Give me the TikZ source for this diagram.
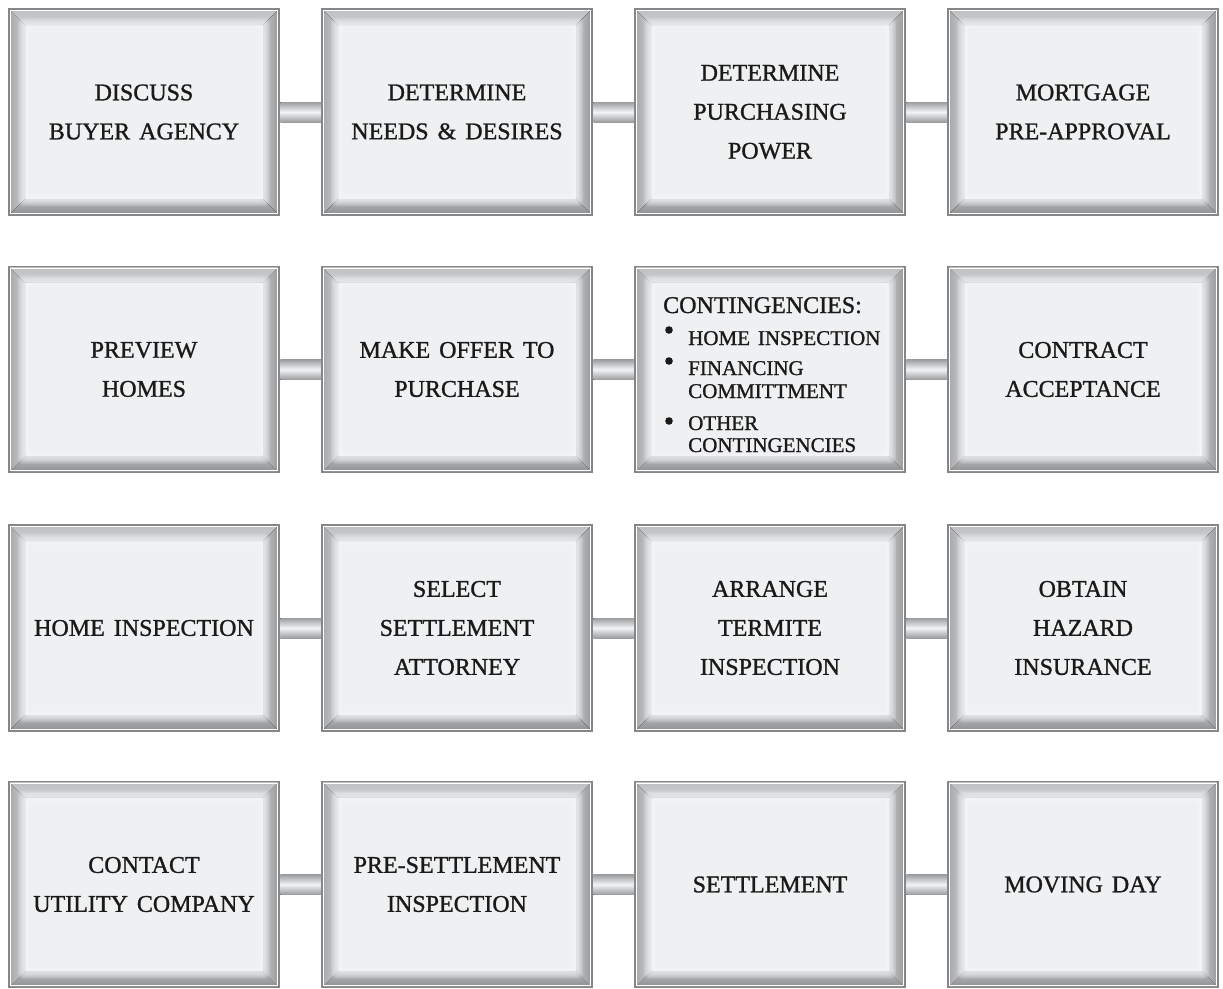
\documentclass[tikz,border=0pt]{standalone}
\usepackage{fontspec}
\setmainfont{Liberation Serif}
\newfontfamily\boxfont{Liberation Serif}[FakeBold=1.1, WordSpace=1.5]
\usetikzlibrary{calc}
\definecolor{lo}{HTML}{A6A7A9}
\definecolor{li}{HTML}{CCCDCF}
\definecolor{to}{HTML}{BDBEC0}
\definecolor{ti}{HTML}{CFD0D2}
\definecolor{ri}{HTML}{C3C4C6}
\definecolor{ro}{HTML}{97989A}
\definecolor{bi}{HTML}{B8B9BB}
\definecolor{bo}{HTML}{8C8D8F}
\definecolor{panel}{HTML}{EFF0F2}
\definecolor{frameline}{HTML}{858688}
\definecolor{txt}{HTML}{1A1A1A}
\definecolor{cdark}{HTML}{9C9D9F}
\definecolor{cmid}{HTML}{F2F3F4}
\def\bw{16pt}
\tikzset{
  bevelbox/.style={rectangle, minimum width=270pt, minimum height=206pt, inner sep=0pt,
    align=center, text=txt, font=\boxfont\fontsize{24}{39}\selectfont,
    draw=frameline, line width=1.3pt,
    path picture={
      \coordinate (SW) at (path picture bounding box.south west);
      \coordinate (NE) at (path picture bounding box.north east);
      \coordinate (NW) at (path picture bounding box.north west);
      \coordinate (SE) at (path picture bounding box.south east);
      \fill[left color=lo, right color=li] (SW) -- (NW) -- ($(NW)+(\bw,-\bw)$) -- ($(SW)+(\bw,\bw)$) -- cycle;
      \fill[top color=to, bottom color=ti] (NW) -- (NE) -- ($(NE)+(-\bw,-\bw)$) -- ($(NW)+(\bw,-\bw)$) -- cycle;
      \fill[left color=ri, right color=ro] (NE) -- (SE) -- ($(SE)+(-\bw,\bw)$) -- ($(NE)+(-\bw,-\bw)$) -- cycle;
      \fill[top color=bi, bottom color=bo] (SW) -- (SE) -- ($(SE)+(-\bw,\bw)$) -- ($(SW)+(\bw,\bw)$) -- cycle;
      \foreach \k in {0,...,8}{
        \pgfmathsetmacro\ins{9+1.3*\k}
        \fill[panel, opacity=0.22, rounded corners=5pt] ($(SW)+(\ins pt,\ins pt)$) rectangle ($(NE)+(-\ins pt,-\ins pt)$);
      }
      \fill[panel] ($(SW)+(20pt,20pt)$) rectangle ($(NE)+(-20pt,-20pt)$);
      \draw[white, line width=0.9pt] ($(SW)+(1.6pt,1.6pt)$) rectangle ($(NE)+(-1.6pt,-1.6pt)$);
    }},
  rod/.style={top color=cdark, bottom color=cdark, middle color=cmid},
  contitem/.style={anchor=base west, inner sep=0pt, text=txt, font=\boxfont\fontsize{21}{23}\selectfont},
  conthead/.style={anchor=base west, inner sep=0pt, text=txt, font=\boxfont\fontsize{24}{28}\selectfont},
  bul/.style={fill=txt}
}
\begin{document}
\begin{tikzpicture}[x=1pt,y=-1pt]
\useasboundingbox (0,0) rectangle (1223,988);
% row 1
\node[bevelbox] (b11) at (144,112) {DISCUSS\\BUYER AGENCY};
\node[bevelbox] (b12) at (457,112) {DETERMINE\\NEEDS \& DESIRES};
\node[bevelbox] (b13) at (770,112) {DETERMINE\\PURCHASING\\POWER};
\node[bevelbox] (b14) at (1083,112) {MORTGAGE\\PRE-APPROVAL};
% row 2
\node[bevelbox] (b21) at (144,369.5) {PREVIEW\\HOMES};
\node[bevelbox] (b22) at (457,369.5) {MAKE OFFER TO\\PURCHASE};
\node[bevelbox] (b23) at (770,369.5) {};
\node[bevelbox] (b24) at (1083,369.5) {CONTRACT\\ACCEPTANCE};
% row 3
\node[bevelbox] (b31) at (144,628) {HOME INSPECTION};
\node[bevelbox] (b32) at (457,628) {SELECT\\SETTLEMENT\\ATTORNEY};
\node[bevelbox] (b33) at (770,628) {ARRANGE\\TERMITE\\INSPECTION};
\node[bevelbox] (b34) at (1083,628) {OBTAIN\\HAZARD\\INSURANCE};
% row 4
\node[bevelbox] (b41) at (144,884.5) {CONTACT\\UTILITY COMPANY};
\node[bevelbox] (b42) at (457,884.5) {PRE-SETTLEMENT\\INSPECTION};
\node[bevelbox] (b43) at (770,884.5) {SETTLEMENT};
\node[bevelbox] (b44) at (1083,884.5) {MOVING DAY};
% contingencies text
\node[conthead] (ch) at (663,313) {CONTINGENCIES:};
\fill[bul] (669,330) circle (3.8pt);
\node[contitem] (c1) at (688,345) {HOME INSPECTION};
\fill[bul] (669,361) circle (3.8pt);
\node[contitem] (c2a) at (688,375) {FINANCING};
\node[contitem] (c2b) at (688,398) {COMMITTMENT};
\fill[bul] (669,421) circle (3.8pt);
\node[contitem] (c3a) at (688,430) {OTHER};
\node[contitem] (c3b) at (688,452) {CONTINGENCIES};
% connectors
\foreach \r in {1,2,3,4}{
  \foreach \a/\b in {1/2,2/3,3/4}{
    \fill[rod] ($(b\r\a.east)+(0.6pt,10pt)$) rectangle ($(b\r\b.west)+(-0.6pt,-10pt)$);
  }
}
\end{tikzpicture}
\end{document}
